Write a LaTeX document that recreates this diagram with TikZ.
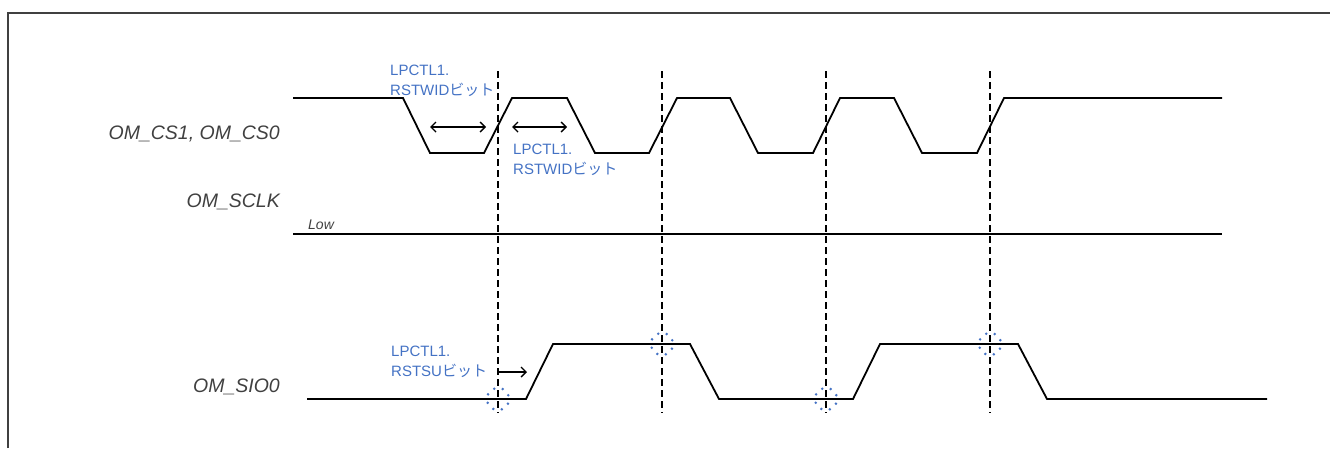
\documentclass[tikz,border=0pt]{standalone}
\usepackage{fontspec}
\setmainfont{Liberation Sans}
\newfontfamily\jp{Noto Sans CJK JP}
\usetikzlibrary{arrows.meta}
\definecolor{lblue}{RGB}{68,114,196}
\definecolor{lgray}{RGB}{64,64,64}
\begin{document}
\begin{tikzpicture}[x=1pt,y=-1pt,
  sig/.style={line width=1.8pt, black, line join=miter},
  guide/.style={line width=2.2pt, black, dash pattern=on 7pt off 4pt},
  note/.style={text=lblue, font=\fontsize{15}{19.5}\selectfont, align=left, inner sep=0pt, anchor=north west},
  lbl/.style={text=lgray, font=\fontsize{19.5}{22}\selectfont\itshape, anchor=base east, inner sep=0pt},
  spotdot/.style={fill=lblue, draw=none},
  span/.style={line width=1.4pt, black, {Straight Barb[length=5pt,width=10pt]}-{Straight Barb[length=5pt,width=10pt]}},
  onearrow/.style={line width=1.4pt, black, -{Straight Barb[length=5pt,width=10pt]}}]
\useasboundingbox (0,0) rectangle (1330,448);
% frame
\draw[lgray, line width=2pt] (7.5,448) -- (7.5,13) -- (1330,13);
% signal labels
\node[lbl] (lcs) at (280,139) {OM\_CS1, OM\_CS0};
\node[lbl] (lsclk) at (280,207) {OM\_SCLK};
\node[lbl] (lsio) at (280,392) {OM\_SIO0};
\node[text=lgray, font=\fontsize{14}{16}\selectfont\itshape, anchor=base west, inner sep=0pt] (low) at (308,229) {Low};
% waveforms
\draw[sig] (293,98) -- (403,98) -- (430,153) -- (484,153) -- (512,98) -- (567,98) -- (595,153) -- (649,153) -- (677,98) -- (730,98) -- (758,153) -- (813,153) -- (840,98) -- (894,98) -- (922,153) -- (977,153) -- (1004,98) -- (1222,98);
\draw[sig] (293,234) -- (1222,234);
\draw[sig] (307,399) -- (526,399) -- (553,344) -- (690,344) -- (719,399) -- (853,399) -- (880,344) -- (1018,344) -- (1047,399) -- (1267,399);
% guides
\foreach \gx/\gn in {498/g1,662/g2,826/g3,990/g4}{
  \coordinate (\gn top) at (\gx,71);
  \coordinate (\gn bot) at (\gx,413);
  \draw[guide] (\gn top) -- (\gn bot);
}
% spots
\coordinate (s1) at (498,399);
\coordinate (s2) at (662,344);
\coordinate (s3) at (826,399);
\coordinate (s4) at (990,344);
\foreach \s in {s1,s2,s3,s4}{
  \foreach \a in {0,45,...,315}{\fill[spotdot] ([shift={(\a+20:11pt)}]\s) circle[radius=1.4pt];}
}
% notes
\node[note] (n1) at (390,65) {LPCTL1.\\RSTWID{\jp ビット}};
\node[note] (n2) at (513,144) {LPCTL1.\\RSTWID{\jp ビット}};
\node[note] (n3) at (391,346) {LPCTL1.\\RSTSU{\jp ビット}};
% arrows
\coordinate (a1l) at (430,127);
\coordinate (a1r) at (486,127);
\coordinate (a2l) at (512,127);
\coordinate (a2r) at (567,127);
\coordinate (a3l) at (498,372);
\coordinate (a3r) at (527,372);
\draw[span] (a1l) -- (a1r);
\draw[span] (a2l) -- (a2r);
\draw[onearrow] (a3l) -- (a3r);
\end{tikzpicture}
\end{document}
